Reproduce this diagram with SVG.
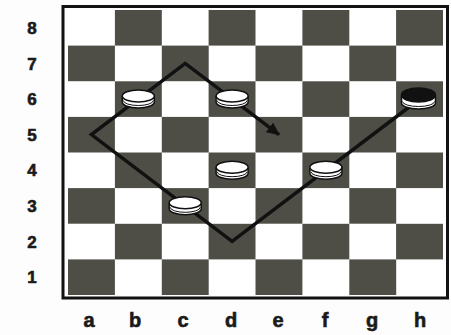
<svg xmlns="http://www.w3.org/2000/svg" width="451" height="335" viewBox="0 0 451 335">
<style>
.dk{fill:#4e4e47}
.lbl{font-family:"Liberation Sans",Arial,sans-serif;font-weight:bold;fill:#1a1a1a;stroke:#1a1a1a;stroke-width:0.6;text-anchor:middle}
.rank{font-size:17px}
.file{font-size:20px}
.move{fill:none;stroke:#111;stroke-width:3.5;stroke-linejoin:miter}
</style>
<defs>
<marker id="ah" markerWidth="14" markerHeight="12" refX="12" refY="6" orient="auto" markerUnits="userSpaceOnUse">
<path d="M0,0 L13,6 L0,12 Z" fill="#111"/>
</marker>
<g id="wp">
<path d="M-16,-3 V3 A16,6 0 0 0 16,3 V-3" fill="#fff" stroke="#111" stroke-width="1.5"/>
<path d="M-15,1.5 A15,5 0 0 0 15,1.5" fill="none" stroke="#111" stroke-width="1"/>
<ellipse cx="0" cy="-3" rx="16" ry="6" fill="#fff" stroke="#111" stroke-width="1.5"/>
</g>
<g id="bp">
<path d="M-17,-3 V4 A17,6 0 0 0 17,4 V-3" fill="#fff" stroke="#111" stroke-width="1.5"/>
<path d="M-16,2.5 A16,5 0 0 0 16,2.5" fill="none" stroke="#111" stroke-width="1"/>
<ellipse cx="0" cy="-4" rx="17" ry="7" fill="#111" stroke="#111" stroke-width="1.5"/>
</g>
</defs>
<rect width="451" height="335" fill="#fdfdfd"/>
<g id="board">
<rect x="68" y="10" width="375" height="285" fill="#fff"/>
<rect class="dk" x="114.9" y="10" width="46.9" height="35.6"/>
<rect class="dk" x="208.6" y="10" width="46.9" height="35.6"/>
<rect class="dk" x="302.4" y="10" width="46.9" height="35.6"/>
<rect class="dk" x="396.1" y="10" width="46.9" height="35.6"/>
<rect class="dk" x="68" y="45.6" width="46.9" height="35.6"/>
<rect class="dk" x="161.8" y="45.6" width="46.9" height="35.6"/>
<rect class="dk" x="255.5" y="45.6" width="46.9" height="35.6"/>
<rect class="dk" x="349.3" y="45.6" width="46.9" height="35.6"/>
<rect class="dk" x="114.9" y="81.3" width="46.9" height="35.6"/>
<rect class="dk" x="208.6" y="81.3" width="46.9" height="35.6"/>
<rect class="dk" x="302.4" y="81.3" width="46.9" height="35.6"/>
<rect class="dk" x="396.1" y="81.3" width="46.9" height="35.6"/>
<rect class="dk" x="68" y="116.9" width="46.9" height="35.6"/>
<rect class="dk" x="161.8" y="116.9" width="46.9" height="35.6"/>
<rect class="dk" x="255.5" y="116.9" width="46.9" height="35.6"/>
<rect class="dk" x="349.3" y="116.9" width="46.9" height="35.6"/>
<rect class="dk" x="114.9" y="152.5" width="46.9" height="35.6"/>
<rect class="dk" x="208.6" y="152.5" width="46.9" height="35.6"/>
<rect class="dk" x="302.4" y="152.5" width="46.9" height="35.6"/>
<rect class="dk" x="396.1" y="152.5" width="46.9" height="35.6"/>
<rect class="dk" x="68" y="188.1" width="46.9" height="35.6"/>
<rect class="dk" x="161.8" y="188.1" width="46.9" height="35.6"/>
<rect class="dk" x="255.5" y="188.1" width="46.9" height="35.6"/>
<rect class="dk" x="349.3" y="188.1" width="46.9" height="35.6"/>
<rect class="dk" x="114.9" y="223.8" width="46.9" height="35.6"/>
<rect class="dk" x="208.6" y="223.8" width="46.9" height="35.6"/>
<rect class="dk" x="302.4" y="223.8" width="46.9" height="35.6"/>
<rect class="dk" x="396.1" y="223.8" width="46.9" height="35.6"/>
<rect class="dk" x="68" y="259.4" width="46.9" height="35.6"/>
<rect class="dk" x="161.8" y="259.4" width="46.9" height="35.6"/>
<rect class="dk" x="255.5" y="259.4" width="46.9" height="35.6"/>
<rect class="dk" x="349.3" y="259.4" width="46.9" height="35.6"/>
<rect x="63" y="6.5" width="384.5" height="291.5" fill="none" stroke="#111" stroke-width="3"/>
</g>
<g id="labels">
<text class="lbl rank" x="32" y="34">8</text>
<text class="lbl rank" x="32" y="69.5">7</text>
<text class="lbl rank" x="32" y="105">6</text>
<text class="lbl rank" x="32" y="140.5">5</text>
<text class="lbl rank" x="32" y="176">4</text>
<text class="lbl rank" x="32" y="212">3</text>
<text class="lbl rank" x="32" y="247.5">2</text>
<text class="lbl rank" x="32" y="283">1</text>
<text class="lbl file" x="89" y="327">a</text>
<text class="lbl file" x="135" y="327">b</text>
<text class="lbl file" x="183" y="327">c</text>
<text class="lbl file" x="231" y="327">d</text>
<text class="lbl file" x="278" y="327">e</text>
<text class="lbl file" x="325" y="327">f</text>
<text class="lbl file" x="372" y="327">g</text>
<text class="lbl file" x="420" y="327">h</text>
</g>
<g id="connectors">
<polyline class="move" points="419.7,99 232.1,241.4 91.4,134.6 185.2,63.4 279,134.6" marker-end="url(#ah)"/>
</g>
<g id="piece-b6"><use href="#wp" x="138.3" y="99"/></g>
<g id="piece-d6"><use href="#wp" x="232.1" y="99"/></g>
<g id="piece-d4"><use href="#wp" x="232.1" y="170.2"/></g>
<g id="piece-f4"><use href="#wp" x="325.9" y="170.2"/></g>
<g id="piece-c3"><use href="#wp" x="185.2" y="205.8"/></g>
<g id="piece-h6"><use href="#bp" x="418.5" y="99"/></g>
</svg>
